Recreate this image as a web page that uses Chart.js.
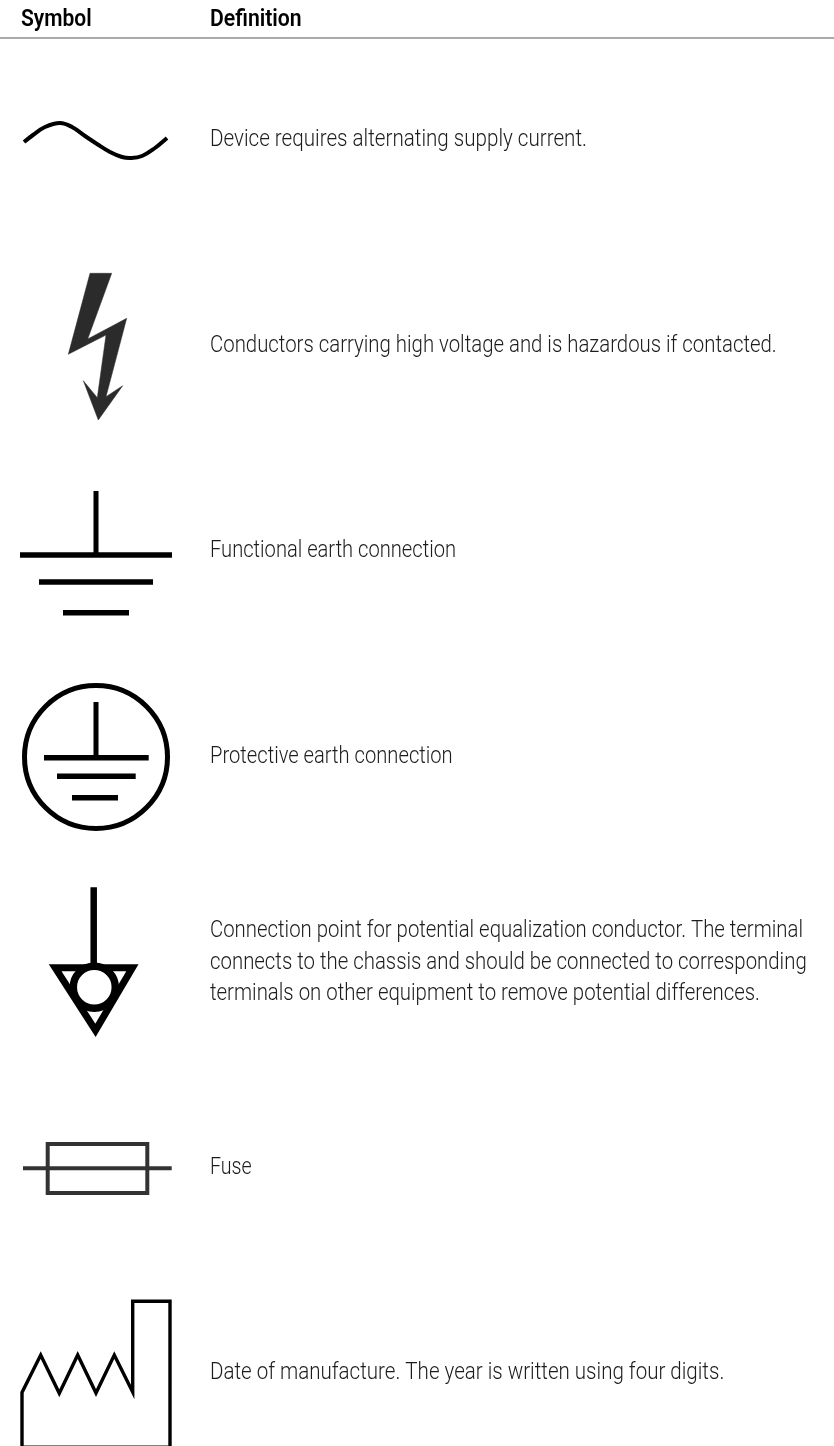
<!DOCTYPE html>
<html>
<head>
<meta charset="utf-8">
<title>Symbol definitions</title>
<style>
  html, body { margin: 0; padding: 0; background: #fff; }
  canvas { display: block; }
</style>
<script src="https://cdn.jsdelivr.net/npm/chart.js@4"></script>
</head>
<body>
<canvas id="grafico" width="834" height="1446"></canvas>
<script>
const headers = ['Symbol', 'Definition'];
const definitions = [
  ['Device requires alternating supply current.'],
  ['Conductors carrying high voltage and is hazardous if contacted.'],
  ['Functional earth connection'],
  ['Protective earth connection'],
  ['Connection point for potential equalization conductor. The terminal',
   'connects to the chassis and should be connected to corresponding',
   'terminals on other equipment to remove potential differences.'],
  ['Fuse'],
  ['Date of manufacture. The year is written using four digits.']
];
const rowValues = [146, 352, 557, 763, 937, 1173.5, 1379];

const ruleX = [0, 834];
const ruleY = [38, 38];

const sineX = [24, 33, 45, 60, 72, 85, 97, 110, 122, 131, 142, 155, 167];
const sineY = [142, 135, 127, 123, 127, 136, 144, 152, 157, 158, 156, 148, 138];

const boltX = [90, 111.7, 87.7, 126.7, 106, 122.7, 98.3, 83.3, 97.3, 106, 68.3, 90];
const boltY = [273.3, 273.3, 339, 318.3, 396.7, 385.7, 420, 380.7, 397.7, 335, 354.3, 273.3];

const earthStemX = [96, 96];
const earthStemY = [491, 553];
const earthBar1X = [20, 172];
const earthBar1Y = [555, 555];
const earthBar2X = [39, 153];
const earthBar2Y = [582, 582];
const earthBar3X = [63, 129];
const earthBar3Y = [612.7, 612.7];

const peRingX = [96];
const peRingY = [757];
const peStemX = [96, 96];
const peStemY = [702, 757];
const peBar1X = [44, 148.7];
const peBar1Y = [757.7, 757.7];
const peBar2X = [57, 135.7];
const peBar2Y = [776.3, 776.3];
const peBar3X = [72, 118];
const peBar3Y = [797.7, 797.7];

const equiStemX = [93.7, 93.7];
const equiStemY = [887.3, 966];
const equiTriangleX = [55.2, 132.4, 95.5, 55.2, 132.4];
const equiTriangleY = [967.8, 967.8, 1030.3, 967.8, 967.8];
const equiRingX = [94.3];
const equiRingY = [987.3];

const fuseBoxX = [47.7, 147.3, 147.3, 47.7, 47.7, 147.3];
const fuseBoxY = [1144, 1144, 1193, 1193, 1144, 1144];
const fuseLineX = [23, 171.7];
const fuseLineY = [1168.3, 1168.3];

const factoryX = [22, 22, 40.7, 59.3, 77.7, 96, 114.3, 132.7, 132.7, 170, 170, 22];
const factoryY = [1447.2, 1392.5, 1355, 1393.3, 1355, 1393, 1355, 1392, 1301.3, 1301.3, 1447.2, 1447.2];

// anchos de cada linea de texto en la referencia
const anchosHeader = [70.7, 91.7];
const anchosTexto = [[377], [566.7], [246], [242.7], [593, 596.7, 550], [41.7], [514.3]];

function pares(xs, ys) {
  return xs.map((x, i) => ({ x: x, y: ys[i] }));
}

function trazo(xs, ys, ancho, color, extra) {
  return Object.assign({
    type: 'line',
    data: pares(xs, ys),
    fill: false,
    borderColor: color || '#000',
    borderWidth: ancho,
    borderCapStyle: 'butt',
    borderJoinStyle: 'miter',
    pointRadius: 0,
    tension: 0
  }, extra || {});
}

function anillo(xs, ys, radio, ancho) {
  return {
    data: pares(xs, ys),
    showLine: false,
    pointStyle: 'circle',
    pointRadius: radio,
    pointBorderWidth: ancho,
    pointBorderColor: '#000',
    pointBackgroundColor: '#fff'
  };
}

// texto condensado: la fuente original no esta instalada
function textoAncho(ctx, texto, x, y, ancho) {
  const factor = ancho / ctx.measureText(texto).width;
  ctx.save();
  ctx.translate(x, y);
  ctx.scale(factor, 1);
  ctx.fillText(texto, 0, 0);
  ctx.restore();
}

const textosTabla = {
  id: 'textosTabla',
  afterDatasetsDraw(chart) {
    const ctx = chart.ctx;
    const sx = chart.scales.x;
    const sy = chart.scales.y;
    ctx.save();
    ctx.textBaseline = 'alphabetic';
    ctx.textAlign = 'left';
    ctx.fillStyle = '#000';
    ctx.font = '600 23.5px Roboto';
    textoAncho(ctx, headers[0], sx.getPixelForValue(21), sy.getPixelForValue(25.5), anchosHeader[0]);
    textoAncho(ctx, headers[1], sx.getPixelForValue(210), sy.getPixelForValue(25.5), anchosHeader[1]);
    ctx.fillStyle = '#1c1c1c';
    ctx.font = '300 24px Roboto';
    definitions.forEach((lineas, i) => {
      lineas.forEach((texto, j) => {
        textoAncho(ctx, texto, sx.getPixelForValue(210), sy.getPixelForValue(rowValues[i] + j * 31.7), anchosTexto[i][j]);
      });
    });
    ctx.restore();
  }
};

const grafico = new Chart(document.getElementById('grafico').getContext('2d'), {
  type: 'scatter',
  data: {
    datasets: [
      trazo(ruleX, ruleY, 2, '#aaaaaa'),
      trazo(sineX, sineY, 4, '#000', { tension: 0.4 }),
      trazo(boltX, boltY, 0.5, '#2b2b2b', { fill: 'shape', backgroundColor: '#2b2b2b' }),
      trazo(earthStemX, earthStemY, 5),
      trazo(earthBar1X, earthBar1Y, 5.5),
      trazo(earthBar2X, earthBar2Y, 5.5),
      trazo(earthBar3X, earthBar3Y, 5.5),
      trazo(peStemX, peStemY, 5),
      trazo(peBar1X, peBar1Y, 5.5),
      trazo(peBar2X, peBar2Y, 5.5),
      trazo(peBar3X, peBar3Y, 5.5),
      anillo(peRingX, peRingY, 71.5, 5),
      anillo(equiRingX, equiRingY, 21, 7.5),
      trazo(equiStemX, equiStemY, 6.5),
      trazo(equiTriangleX, equiTriangleY, 7),
      trazo(fuseBoxX, fuseBoxY, 4, '#333333'),
      trazo(fuseLineX, fuseLineY, 4, '#333333'),
      trazo(factoryX, factoryY, 3.4)
    ]
  },
  options: {
    responsive: false,
    animation: false,
    layout: { padding: 0, autoPadding: false },
    plugins: {
      legend: { display: false },
      title: { display: false },
      tooltip: { enabled: false }
    },
    scales: {
      x: { type: 'linear', display: false, min: 0, max: 834 },
      y: { type: 'linear', display: false, min: 0, max: 1446, reverse: true }
    }
  },
  plugins: [textosTabla]
});
</script>
</body>
</html>
